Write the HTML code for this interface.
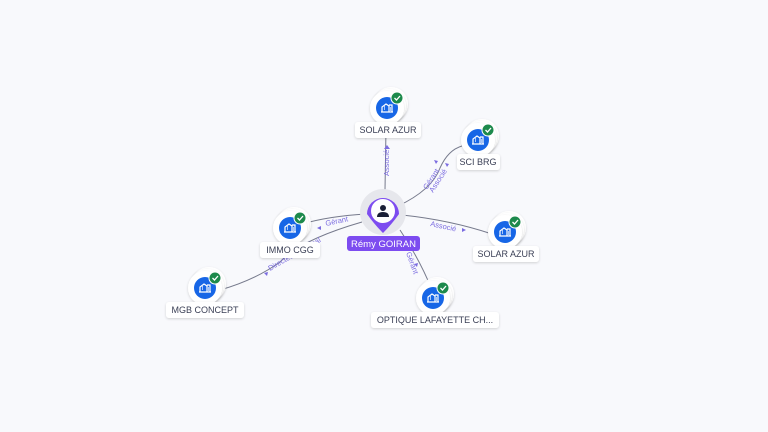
<!DOCTYPE html>
<html><head><meta charset="utf-8"><style>
html,body{margin:0;padding:0;background:#f8f9fc;}
svg{display:block}
text{font-family:"Liberation Sans",sans-serif;}
</style></head><body>
<svg width="768" height="432" viewBox="0 0 768 432" xmlns="http://www.w3.org/2000/svg">
<defs>
<filter id="sh" x="-50%" y="-50%" width="200%" height="200%"><feDropShadow dx="0" dy="1" stdDeviation="1.2" flood-color="#000" flood-opacity="0.16"/></filter>
<g id="co">
  <circle cx="4" cy="-4" r="17" fill="#fff" filter="url(#sh)"/>
  <circle cx="2" cy="-2" r="17" fill="#fff" filter="url(#sh)"/>
  <circle cx="0" cy="0" r="17" fill="#fff" filter="url(#sh)"/>
  <circle cx="0" cy="0" r="11" fill="#1766e6"/>
  <path d="M-5 4 V-1 L-1 -4 L2 -2 V4 M2 -3 H5 V4 M-6 4 H6 M-3 1 h1 M-3 -1 h1 M3 0 h1 M3 2 h1" stroke="#fff" stroke-width="1.2" fill="none"/>
  <circle cx="10" cy="-10" r="6.5" fill="#fff"/>
  <circle cx="10" cy="-10" r="5.5" fill="#1d8a4c"/>
  <path d="M7.5 -10 l2 2 l3.5 -4" stroke="#fff" stroke-width="1.3" fill="none"/>
</g>
</defs>
<g stroke="#767a8c" stroke-width="1" fill="none">
  <path d="M385 190 L386 128"/>
  <path d="M398 206 Q432 190 440 168 Q448 150 462 146"/>
  <path d="M402 215 Q450 220 492 234"/>
  <path d="M400 230 Q420 260 432 290"/>
  <path d="M366 214 Q330 216 302 224"/>
  <path d="M362 222 Q300 240 280 262 Q255 280 220 290"/>
</g>
<g fill="#7b6ce0" font-size="7.5">
  <text transform="translate(389,176) rotate(-90)">Associé</text>
  <path d="M384 149 l3 -4 l3 4z"/>
  <text transform="translate(427,190) rotate(-57)">Gérant</text>
  <text transform="translate(433,193) rotate(-57)">Associé</text>
  <path d="M434 160 l2 4 l2 -3z"/><path d="M445 163 l2 4 l2 -3z"/>
  <text transform="translate(430,226) rotate(12)">Associé</text>
  <path d="M462 228 l4 2 l-4 2z"/>
  <text transform="translate(406,253) rotate(70)">Gérant</text>
  <path d="M414 264 l3 3 l1 -4z"/>
  <text transform="translate(326,226) rotate(-12)">Gérant</text>
  <path d="M321 226 l-4 2 l4 2z"/>
  <text transform="translate(270,271) rotate(-30)">Directeur Général</text>
  <path d="M268 272 l-4 1 l3 3z"/>
</g>
<circle cx="383" cy="212" r="23" fill="#e6e7ec"/>
<path d="M367 214 A16 16 0 1 1 399 214 Q392 224 383 233 Q374 224 367 214 Z" fill="#7d4cf0"/>
<circle cx="383" cy="211" r="12" fill="#fff"/>
<circle cx="383" cy="208" r="3" fill="#1a1f36"/>
<path d="M377 217 Q377 212 383 212 Q389 212 389 217 Z" fill="#1a1f36"/>
<rect x="347" y="236" width="73" height="15" rx="3" fill="#7d4cf0"/>
<text x="383.5" y="247" font-size="9.5" fill="#fff" text-anchor="middle">Rémy GOIRAN</text>
<use href="#co" x="387" y="108"/>
<use href="#co" x="478" y="140"/>
<use href="#co" x="505" y="232"/>
<use href="#co" x="433" y="298"/>
<use href="#co" x="290" y="228"/>
<use href="#co" x="205" y="288"/>
<g font-size="9" fill="#3a3f55" text-anchor="middle">
  <rect x="355" y="122" width="66" height="16" rx="3" fill="#fff" filter="url(#sh)"/>
  <text x="388" y="133">SOLAR AZUR</text>
  <rect x="457" y="154" width="43" height="16" rx="3" fill="#fff" filter="url(#sh)"/>
  <text x="478" y="165">SCI BRG</text>
  <rect x="473" y="246" width="66" height="16" rx="3" fill="#fff" filter="url(#sh)"/>
  <text x="506" y="257">SOLAR AZUR</text>
  <rect x="371" y="312" width="128" height="16" rx="3" fill="#fff" filter="url(#sh)"/>
  <text x="435" y="323">OPTIQUE LAFAYETTE CH...</text>
  <rect x="260" y="242" width="60" height="16" rx="3" fill="#fff" filter="url(#sh)"/>
  <text x="290" y="253">IMMO CGG</text>
  <rect x="166" y="302" width="78" height="16" rx="3" fill="#fff" filter="url(#sh)"/>
  <text x="205" y="313">MGB CONCEPT</text>
</g>
</svg>
</body></html>
